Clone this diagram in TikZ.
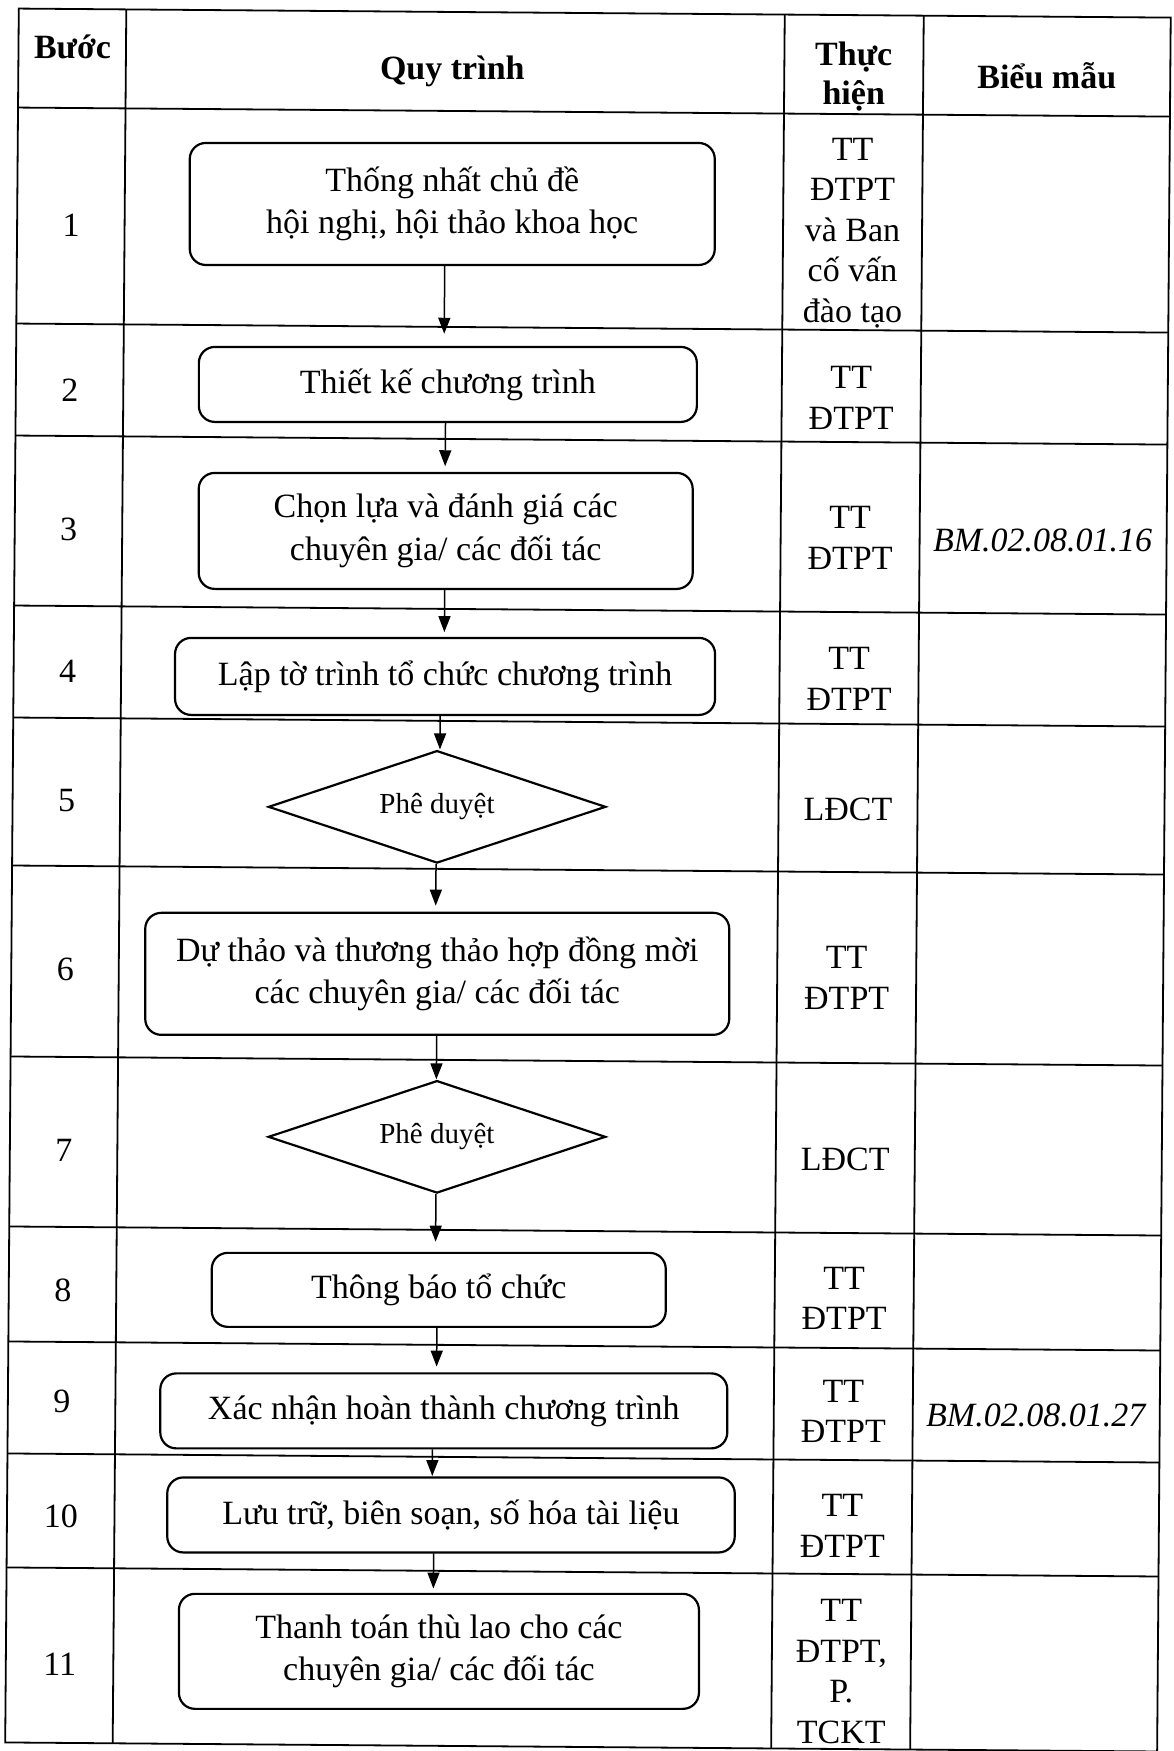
\documentclass[tikz,border=0pt]{standalone}
\usepackage{fontspec}
\setmainfont{Liberation Serif}
\usetikzlibrary{shapes.geometric,arrows.meta}

\begin{document}
\begin{tikzpicture}[x=0.5pt,y=-0.5pt,
  grid/.style={line width=0.9pt},
  stepbox/.style={draw, line width=1.1pt, rounded corners=8pt, align=center,
    inner sep=0pt, font=\fontsize{17}{21.2}\selectfont},
  decision/.style={draw, diamond, line width=1.1pt, inner sep=0pt, aspect=3,
    font=\fontsize{14.5}{17}\selectfont},
  cell/.style={align=center, inner sep=0pt, font=\fontsize{17}{20.25}\selectfont},
  head/.style={align=center, inner sep=0pt, font=\bfseries\fontsize{17}{19.5}\selectfont},
  form/.style={inner sep=0pt, font=\itshape\fontsize{17}{20}\selectfont},
  flow/.style={line width=0.75pt, -{Triangle[length=8pt,width=6pt]}}]

\useasboundingbox (0,0) rectangle (1173,1751);

\begin{scope}[rotate around={-0.45:(586,875)}]
  % table frame and rules
  \draw[grid] (12,13) rectangle (1164,1747);
  \foreach \cx in {119.5,778,917}
    \draw[grid] (\cx,13) -- (\cx,1747);
  \foreach \ry in {112,328,440,610,722,870,1061,1231,1346,1458,1572}
    \draw[grid] (12,\ry) -- (1164,\ry);

  % header
  \node[head] (hStep) at (66,51) {Bước};
  \node[head] (hProc) at (446,72.5) {Quy trình};
  \node[head] (hWho)  at (847.5,74) {Thực\\hiện};
  \node[head] (hForm) at (1040.5,72.4) {Biểu mẫu};

  % step numbers
  \foreach \n/\yy in {1/229.6,2/394,3/533.5,4/675,5/805,6/973.6,7/1154.6,8/1294,9/1406,10/1520,11/1668.5}
    \node[cell] (n\n) at (66,\yy) {\n};

  % responsible units
  \node[cell] (w1)  at (847.5,231)    {TT\\ĐTPT\\và Ban\\cố vấn\\đào tạo};
  \node[cell] (w2)  at (847.5,396)    {TT\\ĐTPT};
  \node[cell] (w3)  at (847.5,536)    {TT\\ĐTPT};
  \node[cell] (w4)  at (847.5,677)    {TT\\ĐTPT};
  \node[cell] (w5)  at (847.5,807)    {LĐCT};
  \node[cell] (w6)  at (847.5,976)    {TT\\ĐTPT};
  \node[cell] (w7)  at (847.5,1157.6) {LĐCT};
  \node[cell] (w8)  at (847.5,1296.6) {TT\\ĐTPT};
  \node[cell] (w9)  at (847.5,1409.5) {TT\\ĐTPT};
  \node[cell] (w10) at (847.5,1524)   {TT\\ĐTPT};
  \node[cell] (w11) at (847.5,1669.7) {TT\\ĐTPT,\\P.\\TCKT};

  % forms
  \node[form] (f3) at (1040,537)  {BM.02.08.01.16};
  \node[form] (f9) at (1040,1412) {BM.02.08.01.27};

  % process steps
  \node[stepbox, minimum width=262.5pt, minimum height=61pt]   (b1)  at (447,205)    {Thống nhất chủ đề\\hội nghị, hội thảo khoa học};
  \node[stepbox, minimum width=249pt,   minimum height=37.5pt] (b2)  at (444,385.5)  {Thiết kế chương trình};
  \node[stepbox, minimum width=247pt,   minimum height=58pt]   (b3)  at (443,532)    {Chọn lựa và đánh giá các\\chuyên gia/ các đối tác};
  \node[stepbox, minimum width=270pt,   minimum height=38.5pt] (b4)  at (443.5,677.5) {Lập tờ trình tổ chức chương trình};
  \node[decision, minimum width=168.75pt, minimum height=56.25pt] (b5) at (436.5,808) {Phê duyệt};
  \node[stepbox, minimum width=292pt,   minimum height=61pt]   (b6)  at (438,975)    {Dự thảo và thương thảo hợp đồng mời\\các chuyên gia/ các đối tác};
  \node[decision, minimum width=168.75pt, minimum height=56.25pt] (b7) at (439,1138) {Phê duyệt};
  \node[stepbox, minimum width=227pt,   minimum height=37pt]   (b8)  at (442,1291)   {Thông báo tổ chức};
  \node[stepbox, minimum width=283.5pt, minimum height=37.5pt] (b9)  at (448,1412)   {Xác nhận hoàn thành chương trình};
  \node[stepbox, minimum width=283.75pt,minimum height=37.5pt] (b10) at (456,1516)   {Lưu trữ, biên soạn, số hóa tài liệu};
  \node[stepbox, minimum width=260pt,   minimum height=57.5pt] (b11) at (445,1652.5) {Thanh toán thù lao cho các\\chuyên gia/ các đối tác};

  % connector lanes
  \coordinate (a1)  at (440,0);
  \coordinate (a2)  at (442,0);
  \coordinate (a3)  at (442.5,0);
  \coordinate (a4)  at (439,0);
  \coordinate (a5)  at (436,0);
  \coordinate (a6)  at (438,0);
  \coordinate (a7)  at (438.5,0);
  \coordinate (a8)  at (440.5,0);
  \coordinate (a9)  at (437,0);
  \coordinate (a10) at (439,0);

  \draw[flow, shorten >=6pt]    (b1.south -| a1)   -- (b2.north -| a1);
  \draw[flow, shorten >=2.75pt] (b2.south -| a2)   -- (b3.north -| a2);
  \draw[flow, shorten >=2.3pt]  (b3.south -| a3)   -- (b4.north -| a3);
  \draw[flow]                   (b4.south -| a4)   -- (b5.north -| a4);
  \draw[flow, shorten >=3pt]    (b5.south -| a5)   -- (b6.north -| a5);
  \draw[flow]                   (b6.south -| a6)   -- (b7.north -| a6);
  \draw[flow, shorten >=5pt]    (b7.south -| a7)   -- (b8.north -| a7);
  \draw[flow, shorten >=2.75pt] (b8.south -| a8)   -- (b9.north -| a8);
  \draw[flow]                   (b9.south -| a9)   -- (b10.north -| a9);
  \draw[flow, shorten >=2pt]    (b10.south -| a10) -- (b11.north -| a10);
\end{scope}
\end{tikzpicture}
\end{document}
